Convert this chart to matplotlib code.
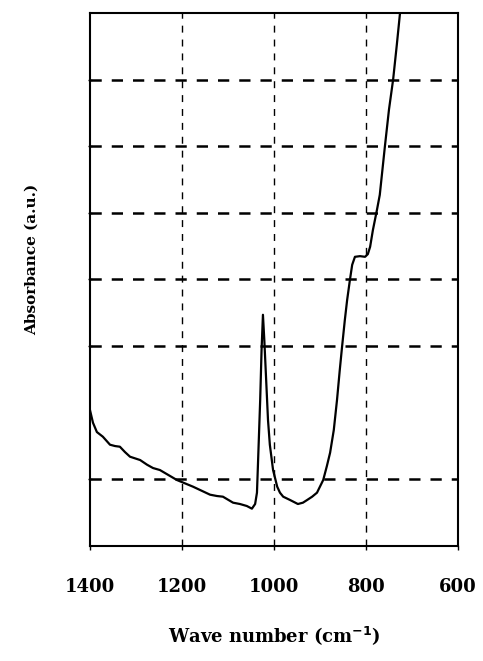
import matplotlib
matplotlib.use("Agg")
from matplotlib import pyplot as plt

# IR spectrum, wavenumber (cm-1) vs absorbance (arbitrary units)
wavenumber = [1400, 1393.5, 1385, 1372, 1356.5, 1345.6, 1335, 1324, 1313, 1291,
              1276, 1263, 1248, 1211, 1176, 1139, 1124, 1111, 1089, 1074,
              1059, 1048, 1041, 1037, 1035, 1030, 1027, 1024, 1021, 1017,
              1013, 1009, 1002, 993, 987, 980, 965, 948, 937, 928,
              917, 906.5, 893, 885, 878, 870, 863, 857, 852, 846,
              841, 835, 830, 824, 813, 802, 796, 791, 785, 776,
              770, 759, 750, 741, 733, 726]
absorbance = [2.04, 1.85, 1.71, 1.64, 1.52, 1.50, 1.49, 1.41, 1.34, 1.29,
              1.22, 1.17, 1.14, 0.99, 0.89, 0.77, 0.75, 0.74, 0.65, 0.63,
              0.60, 0.56, 0.63, 0.80, 1.19, 2.19, 2.94, 3.47, 3.09, 2.49,
              1.89, 1.52, 1.14, 0.89, 0.80, 0.74, 0.69, 0.63, 0.65, 0.69,
              0.74, 0.80, 0.99, 1.20, 1.40, 1.74, 2.19, 2.64, 2.99, 3.39,
              3.69, 3.99, 4.22, 4.34, 4.35, 4.34, 4.38, 4.49, 4.74, 5.05,
              5.27, 5.99, 6.55, 7.00, 7.52, 8.00]

x_ticks = [1400, 1200, 1000, 800, 600]
x_grid = [1200, 1000, 800]
y_grid = [1, 3, 4, 5, 6, 7]

fig = plt.figure(figsize=(4.83, 6.61), dpi=100)
ax = fig.add_axes([0.1863, 0.174, 0.7619, 0.8064])

for x in x_grid:
    ax.axvline(x, color='black', lw=1.0, ls=(0, (5, 5)), zorder=1)
for y in y_grid:
    ax.axhline(y, color='black', lw=1.8, ls=(0, (4.5, 4)), zorder=1)

ax.plot(wavenumber, absorbance, color='black', lw=1.6, zorder=2)

ax.set_xlim(1400, 600)
ax.set_ylim(0, 8)
ax.set_xticks(x_ticks)
ax.set_xticklabels([str(t) for t in x_ticks], family='DejaVu Serif',
                   fontweight='bold', fontsize=13)
ax.set_yticks(y_grid)
ax.set_yticklabels([])
ax.tick_params(axis='x', length=3, width=1, pad=20)
ax.tick_params(axis='y', length=3, width=1, direction='inout')
for s in ax.spines.values():
    s.set_linewidth(1.5)

ax.set_xlabel('Wave number (cm$^{\\mathbf{-1}}$)', family='DejaVu Serif',
              fontweight='bold', fontsize=13, labelpad=20)
fig.text(0.066, 0.608, 'Absorbance (a.u.)', rotation=90, family='DejaVu Serif',
         fontweight='bold', fontsize=11, ha='center', va='center')

fig.savefig('out.png', dpi=100)
